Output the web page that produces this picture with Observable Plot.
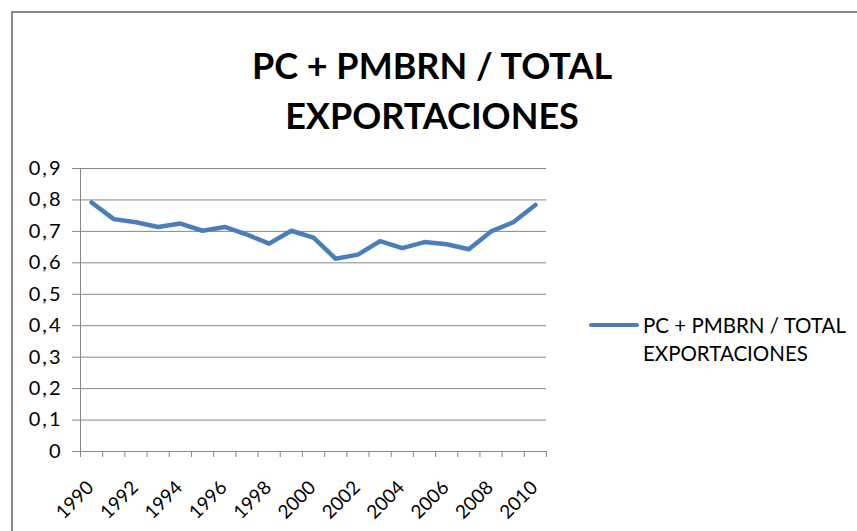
<!DOCTYPE html>
<html>
<head>
<meta charset="utf-8">
<script src="https://cdn.jsdelivr.net/npm/d3@7"></script>
<script src="https://cdn.jsdelivr.net/npm/@observablehq/plot@0.6"></script>
<style>
  html, body { margin: 0; padding: 0; background: #fff; }
  #wrap { position: relative; width: 857px; height: 531px; overflow: hidden; font-family: Lato, "Open Sans", sans-serif; }
  #frame { position: absolute; left: 11px; top: 11px; width: 900px; height: 600px; border-left: 2px solid #888; border-top: 2px solid #888; }
  #title { position: absolute; left: 0; width: 864px; top: 40px; text-align: center; font-weight: bold; font-size: 36px; line-height: 50px; color: #000; }
  #chart { position: absolute; left: 0; top: 150px; width: 560px; height: 381px; }
  #chart svg { font-family: Lato, "Open Sans", sans-serif; }
  #chart svg .ylab text { letter-spacing: 2px; }
  #legend { position: absolute; left: 589px; top: 311px; font-size: 20.5px; line-height: 28px; color: #000; }
  #legend .sw { position: absolute; left: 0; top: 12px; width: 50px; height: 4px; background: #4A7EBB; border-radius: 2px; }
  #legend .txt { position: absolute; left: 54px; top: 0; white-space: nowrap; }
</style>
</head>
<body>
<div id="wrap">
  <div id="frame"></div>
  <div id="title"></div>
  <div id="chart"></div>
  <div id="legend"><div class="sw"></div><div class="txt"></div></div>
</div>
<script>
const titleLines = ["PC + PMBRN / TOTAL", "EXPORTACIONES"];
const seriesName = ["PC + PMBRN / TOTAL", "EXPORTACIONES"];
const years = [1990, 1991, 1992, 1993, 1994, 1995, 1996, 1997, 1998, 1999, 2000,
               2001, 2002, 2003, 2004, 2005, 2006, 2007, 2008, 2009, 2010];
const values = [0.792, 0.739, 0.729, 0.714, 0.725, 0.702, 0.714, 0.690, 0.661, 0.702, 0.680,
                0.613, 0.626, 0.669, 0.647, 0.666, 0.659, 0.643, 0.700, 0.729, 0.784];
const yTicks = [0, 0.1, 0.2, 0.3, 0.4, 0.5, 0.6, 0.7, 0.8, 0.9];
const xLabelYears = [1990, 1992, 1994, 1996, 1998, 2000, 2002, 2004, 2006, 2008, 2010];

document.getElementById("title").innerHTML = titleLines.join("<br>");
document.querySelector("#legend .txt").innerHTML = seriesName.join("<br>");

const data = years.map((y, i) => ({year: y, value: values[i]}));
const boundaries = years.map(y => y - 0.5).concat([years[years.length - 1] + 0.5]);
const gray = "#868686";
const fmtY = d => d === 0 ? "0" : d3.format(".1f")(d).replace(".", ",");

const chart = Plot.plot({
  width: 560,
  height: 381,
  marginLeft: 80,
  marginRight: 14,
  marginTop: 18,
  marginBottom: 80,
  style: {background: "transparent", overflow: "visible", color: "#000"},
  x: {domain: [boundaries[0], boundaries[boundaries.length - 1]], axis: null},
  y: {domain: [0, 0.9], axis: null},
  marks: [
    Plot.gridY(yTicks, {stroke: gray, strokeOpacity: 1, strokeWidth: 1}),
    Plot.ruleX([boundaries[0]], {stroke: gray}),
    Plot.ruleY([0], {stroke: gray}),
    Plot.axisY({ticks: yTicks, tickSize: 8, stroke: gray, tickFormat: () => "", label: null}),
    Plot.axisX({ticks: boundaries, tickSize: 6, stroke: gray, tickFormat: () => "", label: null}),
    Plot.text(yTicks, {x: boundaries[0], y: d => d, text: fmtY, textAnchor: "end", dx: -18, fill: "#000", fontSize: 20, className: "ylab"}),
    Plot.text(xLabelYears, {x: d => d, y: 0, text: d => String(d), textAnchor: "end", rotate: -45, dy: 33, dx: -1, fill: "#000", fontSize: 19}),
    Plot.line(data, {x: "year", y: "value", stroke: "#4A7EBB", strokeWidth: 4.5, strokeLinejoin: "round", strokeLinecap: "round"})
  ]
});
document.getElementById("chart").appendChild(chart);
</script>
</body>
</html>
